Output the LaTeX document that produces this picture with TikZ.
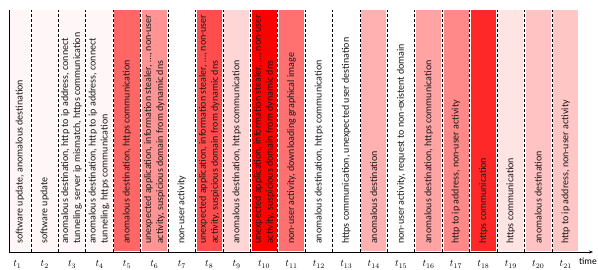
\documentclass[tikz,border=0pt]{standalone}
\usepackage{fontspec}
\setmainfont{Carlito}
\usetikzlibrary{arrows.meta}
\definecolor{evPale}{HTML}{FFF7F7}
\definecolor{evNone}{HTML}{FFFFFF}
\definecolor{evFive}{HTML}{FF6666}
\definecolor{evSix}{HTML}{FF9494}
\definecolor{evEight}{HTML}{FF4C4C}
\definecolor{evNine}{HTML}{FFD6D6}
\definecolor{evTen}{HTML}{FF0000}
\definecolor{evEleven}{HTML}{FF7070}
\definecolor{evFourteen}{HTML}{FFB0B0}
\definecolor{evSixteen}{HTML}{FFA3A3}
\definecolor{evSeventeen}{HTML}{FF8888}
\definecolor{evEighteen}{HTML}{FF2828}
\definecolor{evNineteen}{HTML}{FFE4E4}
\definecolor{evTwenty}{HTML}{FFC3C3}
\definecolor{evLast}{HTML}{FFC6C6}
\tikzset{
	evtext/.style={rotate=90, anchor=west, align=left, inner sep=0pt,
		font=\fontsize{10}{12}\selectfont, text=black!90},
	divider/.style={black, line width=0.8pt, dash pattern=on 3pt off 2pt}
}

\begin{document}
\begin{tikzpicture}[x=1pt, y=1pt]
	\useasboundingbox (0,0) rectangle (598,270);
	
	% Coloured slots (column width 27.42)
	\foreach \i/\c in {1/evPale,2/evPale,3/evPale,4/evPale,5/evFive,6/evSix,7/evNone,
		8/evEight,9/evNine,10/evTen,11/evEleven,12/evNone,13/evNone,14/evFourteen,
		15/evNone,16/evSixteen,17/evSeventeen,18/evEighteen,19/evNineteen,
		20/evTwenty,21/evLast}{
		\fill[\c] ({max(9.5,3.6+(\i-1)*27.42+1.2)},18.5) rectangle ({3.6+\i*27.42-1.2},260);
	}
	
	% Dashed dividers between slots
	\foreach \k in {1,...,20}{
		\draw[divider] ({31+(\k-1)*27.42},18) -- ({31+(\k-1)*27.42},260);
	}
	
	% Axes
	\coordinate (origin) at (9,18);
	\coordinate (top) at (9,260);
	\coordinate (tip) at (593,18);
	\draw[line width=0.9pt] (origin) -- (top);
	\draw[line width=0.9pt, -{Stealth[length=4pt, width=3pt]}] (origin) -- (tip);
	\node[font=\fontsize{9.5}{11}\selectfont, inner sep=1pt] (timelbl) at (588,8.5) {time};
	
	% Slot labels
	\foreach \i in {1,...,21}{
		\node (t\i) at ({17.3+(\i-1)*27.42},5.5) {$t_{\i}$};
	}
	
	% Observed behaviour per slot
	\node[evtext] (ev1) at (20.0,26) {software update, anomalous destination};
	\node[evtext] (ev2) at (44.7,26) {software update};
	\node[evtext] (ev3) at (71.5,26) {anomalous destination, http to ip address, connect\\tunneling, server ip mismatch, https communication};
	\node[evtext] (ev4) at (99.0,26) {anomalous destination, http to ip address, connect\\tunneling, https communication};
	\node[evtext] (ev5) at (127.0,26) {anomalous destination, https communication};
	\node[evtext] (ev6) at (154.4,26) {unexpected application, information stealer, \ldots, non-user\\activity, suspicious domain from dynamic dns};
	\node[evtext] (ev7) at (181.8,26) {non-user activity};
	\node[evtext] (ev8) at (209.2,26) {unexpected application, information stealer, \ldots, non-user\\activity, suspicious domain from dynamic dns};
	\node[evtext] (ev9) at (236.7,26) {anomalous destination, https communication};
	\node[evtext] (ev10) at (264.1,26) {unexpected application, information stealer, \ldots, non-user\\activity, suspicious domain from dynamic dns};
	\node[evtext] (ev11) at (291.5,26) {non-user activity, downloading graphical image};
	\node[evtext] (ev12) at (318.9,26) {anomalous destination, https communication};
	\node[evtext] (ev13) at (346.3,26) {https communication, unexpected user destination};
	\node[evtext] (ev14) at (373.7,26) {anomalous destination};
	\node[evtext] (ev15) at (401.2,26) {non-user activity, request to non-existent domain};
	\node[evtext] (ev16) at (428.6,26) {anomalous destination, https communication};
	\node[evtext] (ev17) at (456.0,26) {http to ip address, non-user activity};
	\node[evtext] (ev18) at (483.4,26) {https communication};
	\node[evtext] (ev19) at (510.8,26) {https communication};
	\node[evtext] (ev20) at (538.2,26) {anomalous destination};
	\node[evtext] (ev21) at (565.7,26) {http to ip address, non-user activity};
\end{tikzpicture}
\end{document}
